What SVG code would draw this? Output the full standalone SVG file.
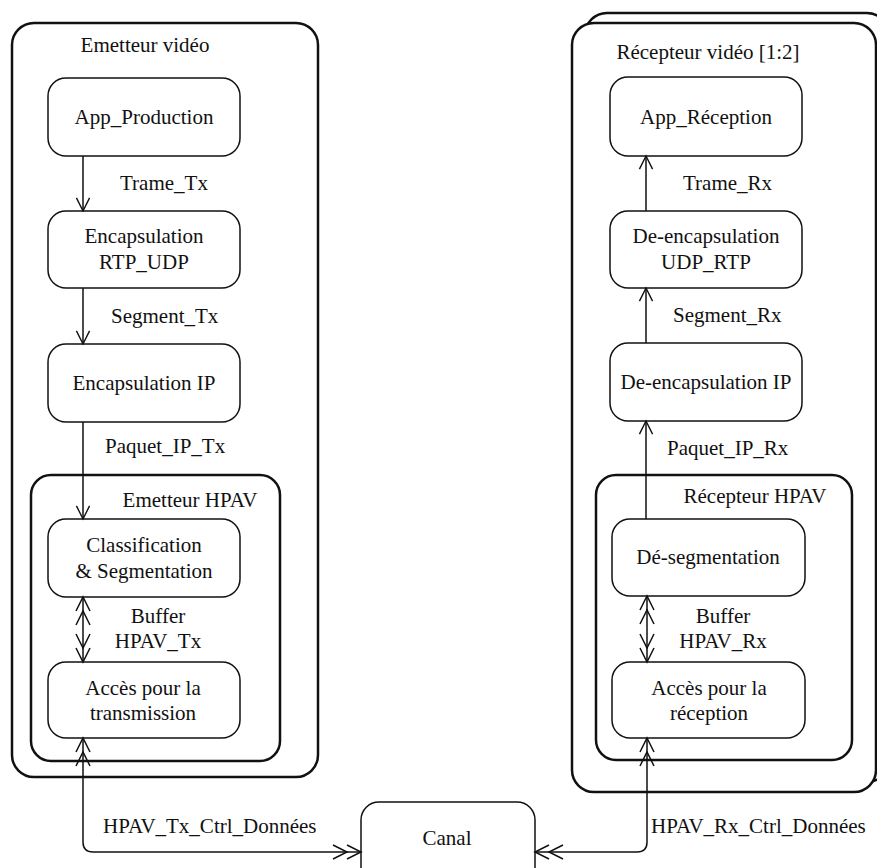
<svg xmlns="http://www.w3.org/2000/svg" width="877" height="868" viewBox="0 0 877 868" font-family="'Liberation Serif', 'Times New Roman', Times, serif">
<style>
text{font-family:'Liberation Serif','Times New Roman',Times,serif;font-size:21px;fill:#111}
.c{text-anchor:middle}
.node{fill:#fff;stroke:#111;stroke-width:1.5}
.cont{fill:#fff;stroke:#111;stroke-width:2.5}
.ln{fill:none;stroke:#111;stroke-width:1.5}
.mk{fill:none;stroke:#111;stroke-width:1.5}
</style>
<defs>
<marker id="a1" markerUnits="userSpaceOnUse" markerWidth="30" markerHeight="20" viewBox="-30 -10 32 20" refX="0" refY="0" orient="auto-start-reverse">
<path class="mk" d="M-14,-7 L0,0 L-14,7"/>
</marker>
<marker id="a2" markerUnits="userSpaceOnUse" markerWidth="32" markerHeight="20" viewBox="-30 -10 32 20" refX="0" refY="0" orient="auto-start-reverse">
<path class="mk" d="M-14,-7 L0,0 L-14,7 M-28,-7 L-14,0 L-28,7"/>
</marker>
</defs>
<g id="emetteur-video">
<rect class="cont" x="12" y="23" width="306" height="754" rx="22"/>
<text class="c" x="145" y="52">Emetteur vidéo</text>
</g>
<g id="recepteur-video">
<rect class="cont" x="585" y="13" width="304" height="769" rx="22"/>
<rect class="cont" x="572" y="23" width="304" height="769" rx="22"/>
<text class="c" x="708" y="59">Récepteur vidéo [1:2]</text>
</g>
<g id="emetteur-hpav">
<rect class="cont" x="31" y="475" width="249" height="286" rx="20"/>
<text class="c" x="190" y="507">Emetteur HPAV</text>
</g>
<g id="recepteur-hpav">
<rect class="cont" x="596" y="475" width="256" height="285" rx="20"/>
<text class="c" x="755" y="503">Récepteur HPAV</text>
</g>
<g id="app-production">
<rect class="node" x="48" y="78" width="192" height="78" rx="18"/>
<text class="c" x="144" y="124">App_Production</text>
</g>
<g id="encapsulation-rtp-udp">
<rect class="node" x="48" y="211" width="192" height="77" rx="18"/>
<text class="c" x="144" y="243">Encapsulation</text>
<text class="c" x="144" y="269">RTP_UDP</text>
</g>
<g id="encapsulation-ip">
<rect class="node" x="48" y="344" width="192" height="78" rx="18"/>
<text class="c" x="144" y="390">Encapsulation IP</text>
</g>
<g id="classification">
<rect class="node" x="48" y="519" width="192" height="78" rx="18"/>
<text class="c" x="144" y="552">Classification</text>
<text class="c" x="144" y="578">&amp; Segmentation</text>
</g>
<g id="acces-transmission">
<rect class="node" x="48" y="662" width="192" height="76" rx="18"/>
<text class="c" x="143" y="695">Accès pour la</text>
<text class="c" x="143" y="720">transmission</text>
</g>
<g id="app-reception">
<rect class="node" x="610" y="77" width="192" height="79" rx="18"/>
<text class="c" x="706" y="124">App_Réception</text>
</g>
<g id="de-encapsulation-udp-rtp">
<rect class="node" x="610" y="211" width="192" height="77" rx="18"/>
<text class="c" x="706" y="243">De-encapsulation</text>
<text class="c" x="706" y="269">UDP_RTP</text>
</g>
<g id="de-encapsulation-ip">
<rect class="node" x="610" y="343" width="192" height="78" rx="18"/>
<text class="c" x="706" y="389">De-encapsulation IP</text>
</g>
<g id="de-segmentation">
<rect class="node" x="612" y="519" width="193" height="77" rx="18"/>
<text class="c" x="708" y="564">Dé-segmentation</text>
</g>
<g id="acces-reception">
<rect class="node" x="612" y="662" width="193" height="76" rx="18"/>
<text class="c" x="709" y="695">Accès pour la</text>
<text class="c" x="709" y="720">réception</text>
</g>
<g id="canal">
<rect class="node" x="361" y="802" width="174" height="90" rx="18"/>
<text class="c" x="447" y="845">Canal</text>
</g>
<g id="connectors">
<path class="ln" d="M83,156 L83,211" marker-end="url(#a1)"/>
<path class="ln" d="M83,288 L83,344" marker-end="url(#a1)"/>
<path class="ln" d="M83,422 L83,519" marker-end="url(#a1)"/>
<path class="ln" d="M83,597 L83,662" marker-start="url(#a2)" marker-end="url(#a2)"/>
<path class="ln" d="M83,738 L83,842 Q83,852 93,852 L361,852" marker-start="url(#a2)" marker-end="url(#a2)"/>
<path class="ln" d="M646,211 L646,156" marker-end="url(#a1)"/>
<path class="ln" d="M646,343 L646,288" marker-end="url(#a1)"/>
<path class="ln" d="M646,519 L646,421" marker-end="url(#a1)"/>
<path class="ln" d="M647,596 L647,662" marker-start="url(#a2)" marker-end="url(#a2)"/>
<path class="ln" d="M647,738 L647,842 Q647,852 637,852 L535,852" marker-start="url(#a2)" marker-end="url(#a2)"/>
<text x="120" y="190">Trame_Tx</text>
<text x="111" y="323">Segment_Tx</text>
<text x="105" y="453">Paquet_IP_Tx</text>
<text class="c" x="158" y="623">Buffer</text>
<text class="c" x="158" y="648">HPAV_Tx</text>
<text x="103" y="833">HPAV_Tx_Ctrl_Données</text>
<text x="683" y="190">Trame_Rx</text>
<text x="673" y="322">Segment_Rx</text>
<text x="667" y="455">Paquet_IP_Rx</text>
<text class="c" x="723" y="623">Buffer</text>
<text class="c" x="723" y="648">HPAV_Rx</text>
<text x="651" y="833">HPAV_Rx_Ctrl_Données</text>
</g>
</svg>
